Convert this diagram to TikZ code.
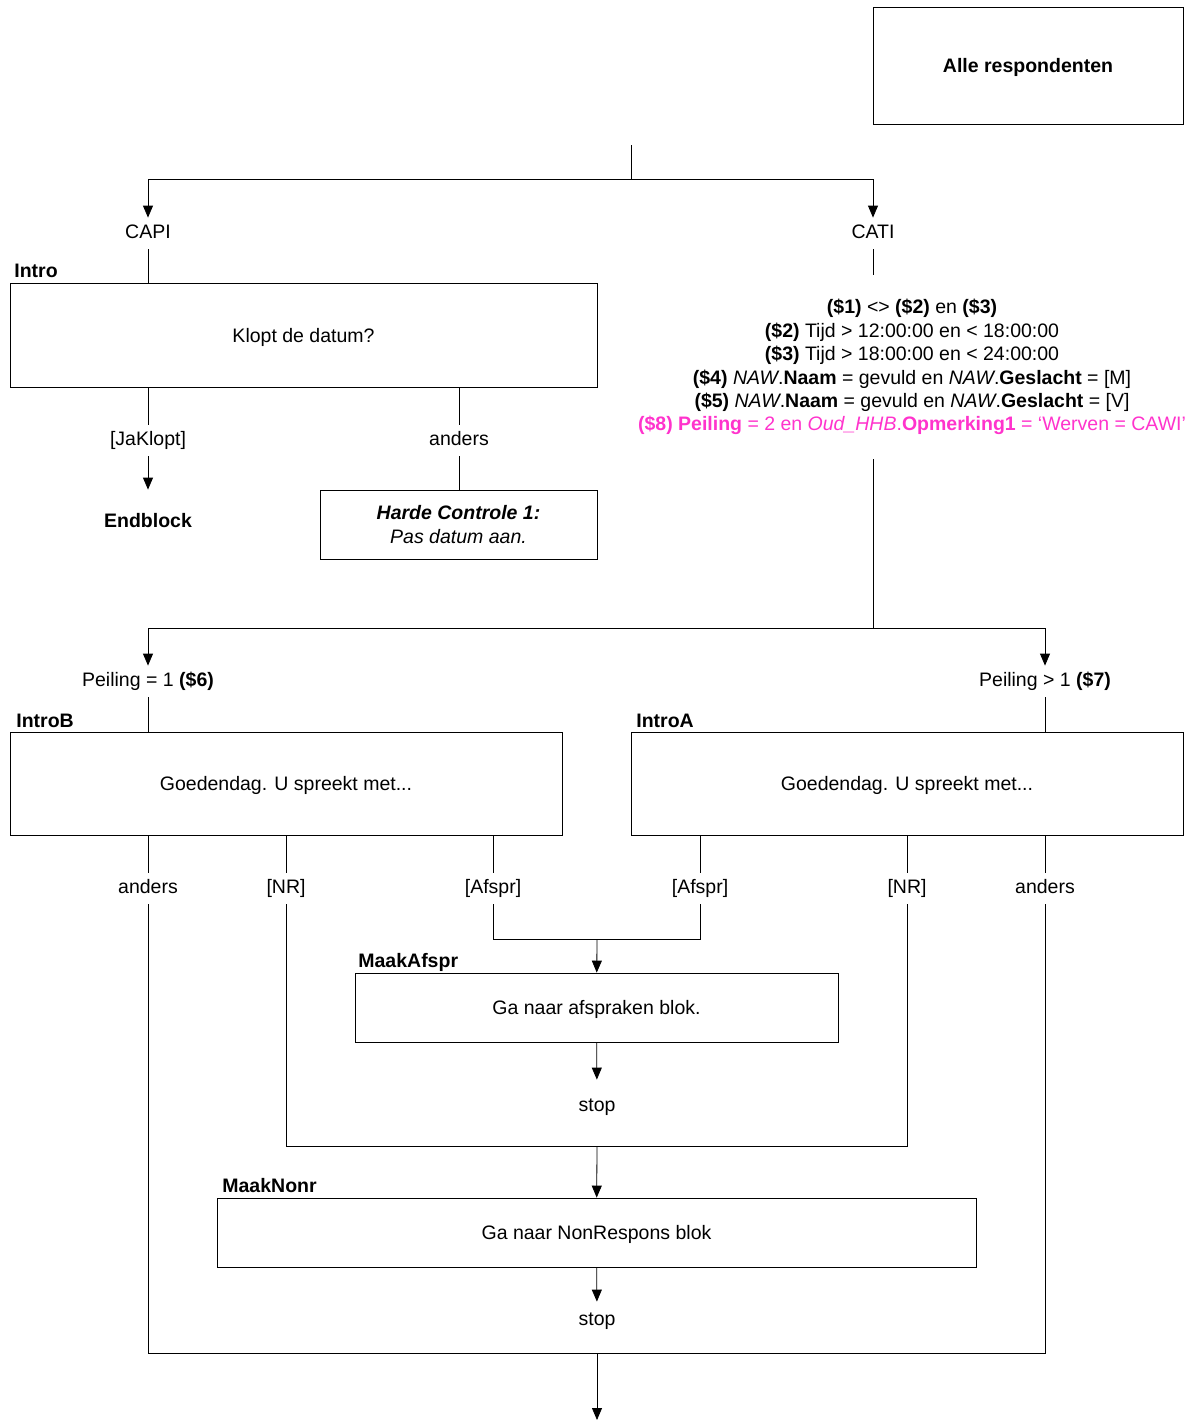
\documentclass[tikz,border=0pt]{standalone}
\usepackage{fontspec}
\setmainfont{Liberation Sans}
\usetikzlibrary{arrows.meta}
\definecolor{pink}{RGB}{255,51,204}
\newcommand\fsz{\fontsize{19.5}{23.4}\selectfont}
\tikzset{
  box/.style={draw,rectangle,inner sep=0pt,align=center,text depth=0pt},
  lbl/.style={anchor=base,inner xsep=2pt,inner ysep=7pt,text height=13pt,text depth=4pt},
  tag/.style={anchor=base west,inner sep=0pt,font=\fsz\bfseries},
  arr/.style={-{Triangle[width=10pt,length=12pt]}}
}
\begin{document}
\begin{tikzpicture}[x=1pt,y=-1pt,line width=0.8pt,font=\fsz]
\useasboundingbox (0,0) rectangle (1193,1421);
%
\node[box,minimum width=310pt,minimum height=117pt] (alle) at (1028,65.5) {\textbf{Alle respondenten}};
\coordinate (start) at (631,145);
\coordinate (split) at (631,179);
\node[lbl] (capi) at (148,238) {CAPI};
\node[lbl] (cati) at (873,238) {CATI};
\draw (start)--(split);
\draw[arr] (split)-|(capi);
\draw[arr] (split)-|(cati);
%CAPI
\node[tag] (introtag) at (14,277) {Intro};
\node[box,minimum width=587pt,minimum height=104pt] (intro) at (303.5,335) {Klopt de datum?};
\node[lbl] (ja) at (148,445) {[JaKlopt]};
\node[lbl] (and0) at (459,445) {anders};
\node[lbl,inner ysep=24pt] (endb) at (148,527) {\textbf{Endblock}};
\node[box,minimum width=277pt,minimum height=69pt] (harde) at (458.5,524.5) {\textbf{\textit{Harde Controle 1:}}\\\textit{Pas datum aan.}};
\draw (capi)--(capi|-intro.north);
\draw (intro.south-|ja)--(ja);
\draw[arr] (ja)--(endb);
\draw (intro.south-|and0)--(and0)--(and0|-harde.north);
%CATI
\node[anchor=north,align=center,inner xsep=0pt,inner ysep=24pt] (cond) at (912,275)
  {\textbf{(\$1)} <> \textbf{(\$2)} en \textbf{(\$3)}\\
   \textbf{(\$2)} Tijd > 12:00:00 en < 18:00:00\\
   \textbf{(\$3)} Tijd > 18:00:00 en < 24:00:00\\
   \textbf{(\$4)} \textit{NAW}.\textbf{Naam} = gevuld en \textit{NAW}.\textbf{Geslacht} = [M]\\
   \textbf{(\$5)} \textit{NAW}.\textbf{Naam} = gevuld en \textit{NAW}.\textbf{Geslacht} = [V]\\
   \color{pink}\textbf{(\$8) Peiling} = 2 en \textit{Oud\_HHB}.\textbf{Opmerking1} = `Werven = CAWI'};
\coordinate (split2) at (873,628);
\draw (cati)--(cati|-cond.north);
\draw (cond.south-|cati)--(split2);
\node[lbl] (p1) at (148,686) {Peiling = 1 \textbf{(\$6)}};
\node[lbl] (p2) at (1045,686) {Peiling > 1 \textbf{(\$7)}};
\draw[arr] (split2)-|(p1);
\draw[arr] (split2)-|(p2);
%
\node[tag] (introBtag) at (16,727) {IntroB};
\node[tag] (introAtag) at (636,727) {IntroA};
\node[box,minimum width=552pt,minimum height=103pt] (introB) at (286,783.5) {Goedendag. U spreekt met...};
\node[box,minimum width=552pt,minimum height=103pt] (introA) at (907,783.5) {Goedendag. U spreekt met...};
\draw (p1)--(p1|-introB.north);
\draw (p2)--(p2|-introA.north);
\node[lbl] (andB) at (148,893) {anders};
\node[lbl] (nrB) at (286,893) {[NR]};
\node[lbl] (afB) at (493,893) {[Afspr]};
\node[lbl] (afA) at (700,893) {[Afspr]};
\node[lbl] (nrA) at (907,893) {[NR]};
\node[lbl] (andA) at (1045,893) {anders};
\foreach \n in {andB,nrB,afB}{\draw (introB.south-|\n)--(\n);}
\foreach \n in {afA,nrA,andA}{\draw (introA.south-|\n)--(\n);}
%afspraak
\coordinate (m1) at (597,939);
\node[tag] (afsprtag) at (358,967) {MaakAfspr};
\node[box,minimum width=483pt,minimum height=69pt] (afspr) at (596.5,1007.5) {Ga naar afspraken blok.};
\node[lbl,inner ysep=18pt] (stop1) at (597,1111) {stop};
\draw (afB)--(afB|-m1)--(afA|-m1)--(afA);
\draw[arr] (m1)--(afspr);
\draw[arr] (afspr)--(stop1);
%nonrespons
\coordinate (m2) at (597,1146);
\node[tag] (nonrtag) at (222,1192) {MaakNonr};
\node[box,minimum width=759pt,minimum height=69pt] (nonr) at (596.5,1232.5) {Ga naar NonRespons blok};
\node[lbl,inner ysep=10pt] (stop2) at (597,1325) {stop};
\draw (nrB)--(nrB|-m2)--(nrA|-m2)--(nrA);
\draw[arr] (m2)--(nonr);
\draw[arr] (nonr)--(stop2);
%anders
\coordinate (m3) at (597,1353);
\coordinate (uit) at (597,1420);
\draw (andB)--(andB|-m3)--(andA|-m3)--(andA);
\draw[arr] (m3)--(uit);
\end{tikzpicture}
\end{document}
